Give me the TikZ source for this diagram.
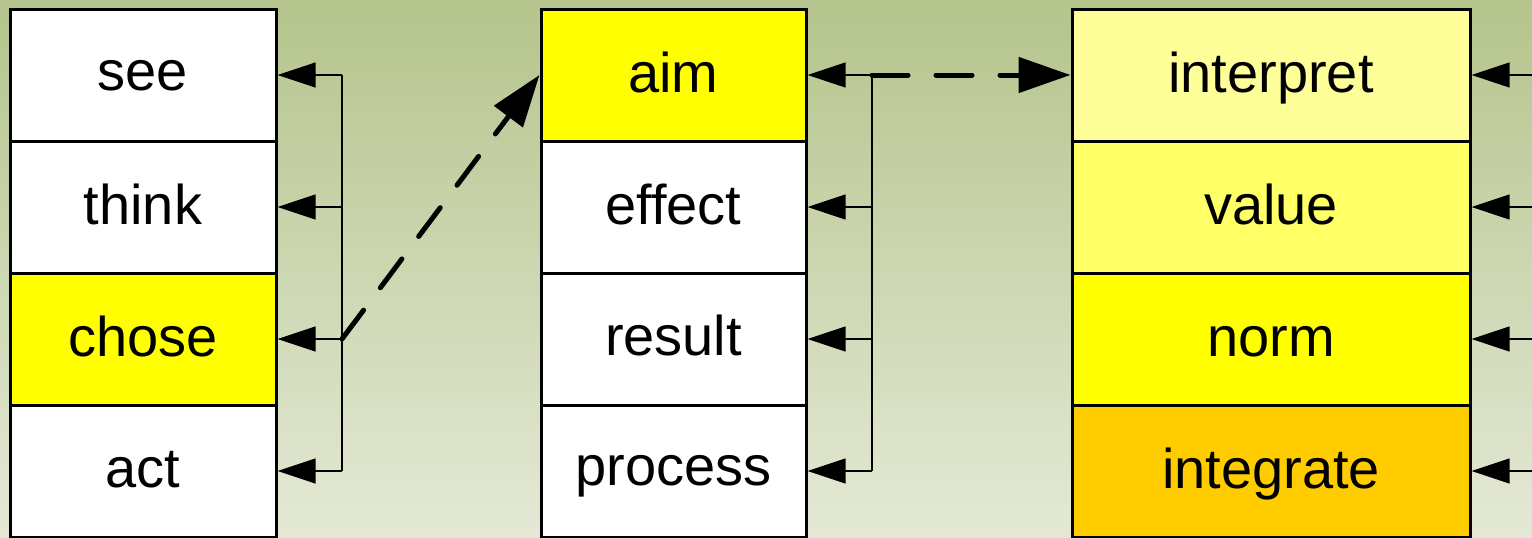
\documentclass[tikz,border=0pt]{standalone}
\usepackage{fontspec}
\setmainfont{Liberation Sans}
\usetikzlibrary{arrows.meta}
\definecolor{bgtop}{RGB}{181,196,140}
\definecolor{bgbot}{RGB}{228,233,214}
\definecolor{paleyellow}{RGB}{255,255,153}
\definecolor{midyellow}{RGB}{255,255,102}
\definecolor{fullyellow}{RGB}{255,255,0}
\definecolor{amber}{RGB}{255,204,0}
\tikzset{
  cell/.style={draw=black, line width=3pt, rectangle, inner sep=0pt,
    minimum height=132pt, font=\fontsize{56}{60}\selectfont,
    text height=47pt, text depth=13pt},
  leftcell/.style={cell, minimum width=266pt},
  midcell/.style={cell, minimum width=265pt},
  rightcell/.style={cell, minimum width=398pt},
  feed/.style={line width=1.2pt, -{Triangle[length=38pt,width=25pt]}},
  bus/.style={line width=1.2pt},
  link/.style={line width=5pt, line cap=round, dash pattern=on 36pt off 28pt,
    -{Triangle[length=52pt,width=35pt,line cap=butt]}}
}
\begin{document}
\begin{tikzpicture}[x=1pt,y=-1pt]
  \useasboundingbox (0,0) rectangle (1532,538);
  \clip (0,0) rectangle (1532,538);
  \shade[top color=bgtop, bottom color=bgbot] (0,0) rectangle (1532,538);

  % left column
  \node[leftcell, fill=white, text height=45pt, text depth=15pt] (see) at (143,75) {see};
  \node[leftcell, fill=white]      (think) at (143,207) {think};
  \node[leftcell, fill=fullyellow] (chose) at (143,339) {chose};
  \node[leftcell, fill=white, text height=46pt, text depth=14pt] (act) at (143,471) {act};

  % middle column
  \node[midcell, fill=fullyellow] (aim)    at (673.5,75)  {aim};
  \node[midcell, fill=white]      (effect) at (673.5,207) {effect};
  \node[midcell, fill=white, text height=46pt, text depth=14pt] (result) at (673.5,339) {result};
  \node[midcell, fill=white, text height=44pt, text depth=16pt] (process) at (673.5,471) {process};

  % right column
  \node[rightcell, fill=paleyellow] (interpret) at (1271,75)  {interpret};
  \node[rightcell, fill=midyellow]  (value)     at (1271,207) {value};
  \node[rightcell, fill=fullyellow] (norm)      at (1271,339) {norm};
  \node[rightcell, fill=amber]      (integrate) at (1271,471) {integrate};

  % bus tap points
  \coordinate (l1) at (342,75);  \coordinate (l2) at (342,207);
  \coordinate (l3) at (342,339); \coordinate (l4) at (342,471);
  \coordinate (m1) at (872,75);  \coordinate (m2) at (872,207);
  \coordinate (m3) at (872,339); \coordinate (m4) at (872,471);
  \coordinate (r1) at (1540,75);  \coordinate (r2) at (1540,207);
  \coordinate (r3) at (1540,339); \coordinate (r4) at (1540,471);

  % buses
  \draw[bus] (l1) -- (l4);
  \draw[bus] (m1) -- (m4);

  % feeders
  \draw[feed] (l1) -- (see.east);
  \draw[feed] (l2) -- (think.east);
  \draw[feed] (l3) -- (chose.east);
  \draw[feed] (l4) -- (act.east);
  \draw[feed] (m1) -- (aim.east);
  \draw[feed] (m2) -- (effect.east);
  \draw[feed] (m3) -- (result.east);
  \draw[feed] (m4) -- (process.east);
  \draw[feed] (r1) -- (interpret.east);
  \draw[feed] (r2) -- (value.east);
  \draw[feed] (r3) -- (norm.east);
  \draw[feed] (r4) -- (integrate.east);

  % dashed links between columns
  \draw[link] (l3) -- (aim.west);
  \draw[link] (m1) -- (interpret.west);
\end{tikzpicture}
\end{document}
